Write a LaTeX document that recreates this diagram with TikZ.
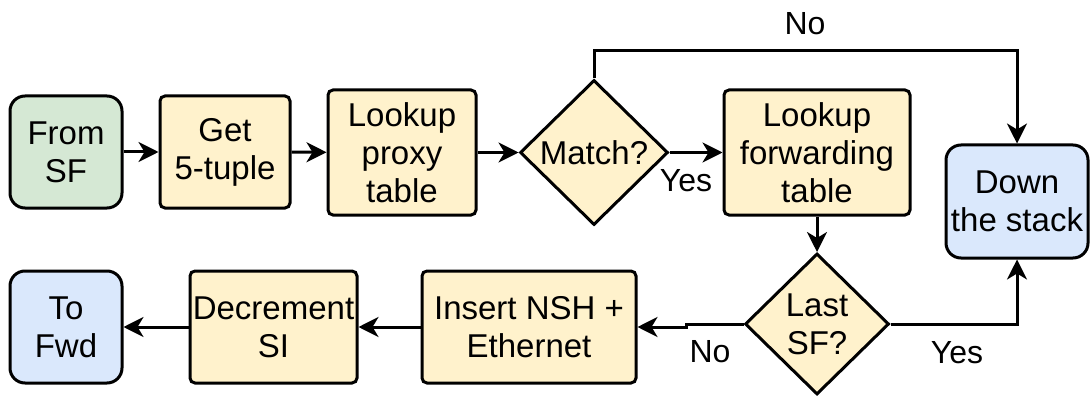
\documentclass[tikz,border=0pt]{standalone}
\usepackage{fontspec}
\setmainfont{Liberation Sans}
\usetikzlibrary{shapes.geometric,arrows.meta}
\definecolor{startfill}{HTML}{D5E8D4}
\definecolor{procfill}{HTML}{FFF2CC}
\definecolor{endfill}{HTML}{DAE8FC}

\begin{document}
\begin{tikzpicture}[x=1pt,y=-1pt,
  txt/.style={font=\fontsize{33}{38}\selectfont},
  base/.style={txt, draw=black, line width=3pt, align=center, inner sep=0pt},
  proc/.style={base, rectangle, rounded corners=5pt, fill=procfill},
  term/.style={base, rectangle, rounded corners=15pt},
  decision/.style={base, diamond, shape aspect=1, fill=procfill},
  lbl/.style={font=\fontsize{32}{38}\selectfont, inner sep=0pt},
  flow/.style={line width=3pt, -{Stealth[length=20pt,width=20pt,inset=6pt]}},
]
\useasboundingbox (0,0) rectangle (1091,398);

% top row
\node[term, fill=startfill, minimum width=112pt, minimum height=112pt] (fromsf) at (66,152) {From\\SF};
\node[proc, minimum width=130pt, minimum height=112pt] (tuple) at (225,152) {Get\\5-tuple};
\node[proc, minimum width=148pt, minimum height=125pt] (proxy) at (402,152.5) {Lookup\\proxy\\table};
\node[decision, minimum width=148pt, minimum height=145pt] (match) at (594,152.5) {Match?};
\node[proc, minimum width=186pt, minimum height=125pt] (fwdtab) at (817,152.5) {Lookup\\forwarding\\table};
\node[term, fill=endfill, minimum width=142pt, minimum height=113pt] (down) at (1017,201.5) {Down\\the stack};

% bottom row
\node[decision, minimum width=144pt, minimum height=141pt] (last) at (817,324) {Last\\SF?};
\node[proc, minimum width=214pt, minimum height=112pt] (insert) at (529,327) {Insert NSH +\\Ethernet};
\node[proc, minimum width=167pt, minimum height=112pt] (decr) at (273.5,327) {Decrement\\SI};
\node[term, fill=endfill, minimum width=112pt, minimum height=112pt] (tofwd) at (66,327) {To\\Fwd};

% branch labels
\node[lbl] (nomatch) at (805,24) {No};
\node[lbl] (yesmatch) at (686,181) {Yes};
\node[lbl] (nolast) at (710,352) {No};
\node[lbl] (yeslast) at (957,353) {Yes};

% connectors
\draw[flow] (fromsf) -- (tuple);
\draw[flow] (tuple) -- (proxy);
\draw[flow] (proxy) -- (match.west);
\draw[flow] (match.east) -- (fwdtab.west);
\draw[flow] (match.north) -- ++(0,-28) -| (down.north);
\draw[flow] (fwdtab.south) -- (last.north);
\draw[flow] (last.east) -| (down.south);
\draw[flow] (last.west) -- ++(-57,0) -- ++(0,3) -- (insert.east);
\draw[flow] (insert) -- (decr);
\draw[flow] (decr) -- (tofwd);
\end{tikzpicture}
\end{document}
